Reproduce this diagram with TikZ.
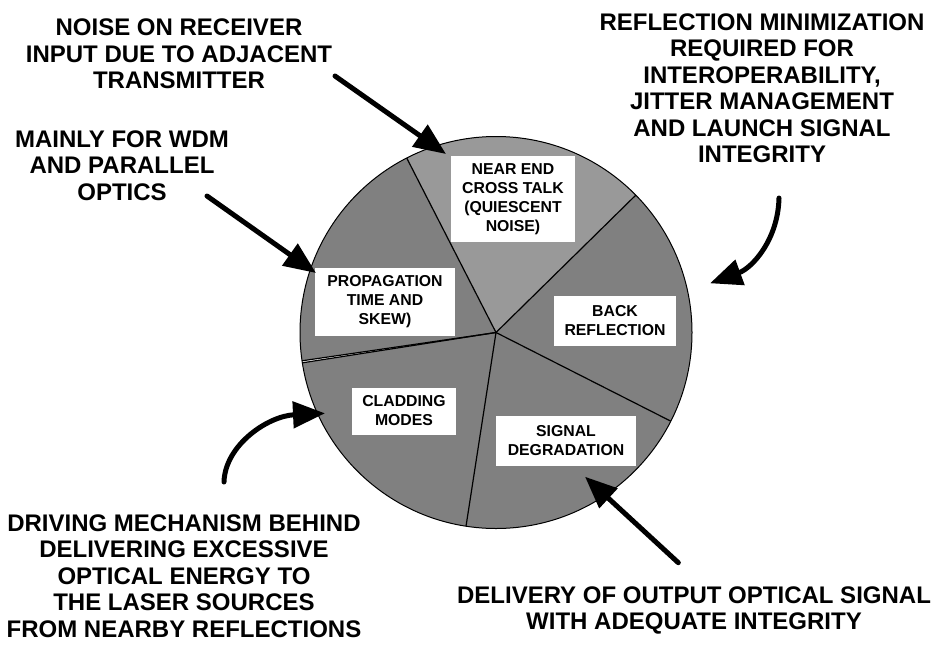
\documentclass[tikz,border=0pt]{standalone}
\usepackage{fontspec}
\setmainfont{Liberation Sans}
\usetikzlibrary{arrows.meta}
\definecolor{pielight}{RGB}{153,153,153}
\definecolor{piedark}{RGB}{128,128,128}
\begin{document}
\begin{tikzpicture}[x=1pt,y=-1pt,
  outer/.style={font=\bfseries\fontsize{24}{26.5}\selectfont, align=center, inner sep=0pt, anchor=north},
  boxlabel/.style={fill=white, font=\bfseries\fontsize{15.8}{19}\selectfont, align=center, inner sep=0pt},
  bigarrow/.style={line width=5pt, line cap=round, -{Triangle[length=32pt,width=26pt]}},
  sliceline/.style={line width=1.2pt}]
\useasboundingbox (0,0) rectangle (936,654);
\coordinate (C) at (496,332.5);
% pie
\fill[piedark] (C) circle (196);
\fill[pielight] (C) -- ++(-44.5:196) arc (-44.5:-117.1:196) -- cycle;
\fill[white] (C) -- ++(171.1:196) arc (171.1:171.7:196) -- cycle;
\foreach \a in {-117.1,-44.5,26.9,98.8,171.1,171.7}
  \draw[sliceline] (C) -- ++(\a:196);
\draw[line width=1pt] (C) circle (196);
% slice labels
\node[boxlabel, minimum width=124pt, minimum height=86pt] (next) at (513,199) {NEAR END\\CROSS TALK\\(QUIESCENT\\NOISE)};
\node[boxlabel, minimum width=140pt, minimum height=68pt] (prop) at (385,302) {PROPAGATION\\TIME AND\\SKEW)};
\node[boxlabel, minimum width=122pt, minimum height=50pt] (back) at (615,321) {BACK\\REFLECTION};
\node[boxlabel, minimum width=104pt, minimum height=47pt] (clad) at (404,411) {CLADDING\\MODES};
\node[boxlabel, minimum width=140pt, minimum height=50pt] (sig) at (566,441) {SIGNAL\\DEGRADATION};
% outer labels
\node[outer] (noise) at (179,18.8) {NOISE ON RECEIVER\\INPUT DUE TO ADJACENT\\TRANSMITTER};
\node[outer] (wdm) at (122,130.1) {MAINLY FOR WDM\\AND PARALLEL\\OPTICS};
\node[outer] (refl) at (762,13.5) {REFLECTION MINIMIZATION\\REQUIRED FOR\\INTEROPERABILITY,\\JITTER MANAGEMENT\\AND LAUNCH SIGNAL\\INTEGRITY};
\node[outer] (drive) at (184,514.5) {DRIVING MECHANISM BEHIND\\DELIVERING EXCESSIVE\\OPTICAL ENERGY TO\\THE LASER SOURCES\\FROM NEARBY REFLECTIONS};
\node[outer] (deliv) at (694,586.1) {DELIVERY OF OUTPUT OPTICAL SIGNAL\\WITH ADEQUATE INTEGRITY};
% arrow end points
\coordinate (a1s) at (335,76);
\coordinate (a1e) at (446,154);
\coordinate (a2s) at (207,196);
\coordinate (a2e) at (316,273);
\coordinate (a3s) at (779,198);
\coordinate (a3e) at (710,283.3);
\coordinate (a4s) at (224,482);
\coordinate (a4e) at (325,413.3);
\coordinate (a5s) at (678.3,562.7);
\coordinate (a5e) at (585,476.7);
% arrows
\draw[bigarrow] (a1s) -- (a1e);
\draw[bigarrow] (a2s) -- (a2e);
\draw[bigarrow] (a3s) .. controls (778,240) and (752,268) .. (a3e);
\draw[bigarrow] (a4s) .. controls (225,445) and (268,416) .. (a4e);
\draw[bigarrow] (a5s) -- (a5e);
\end{tikzpicture}
\end{document}
